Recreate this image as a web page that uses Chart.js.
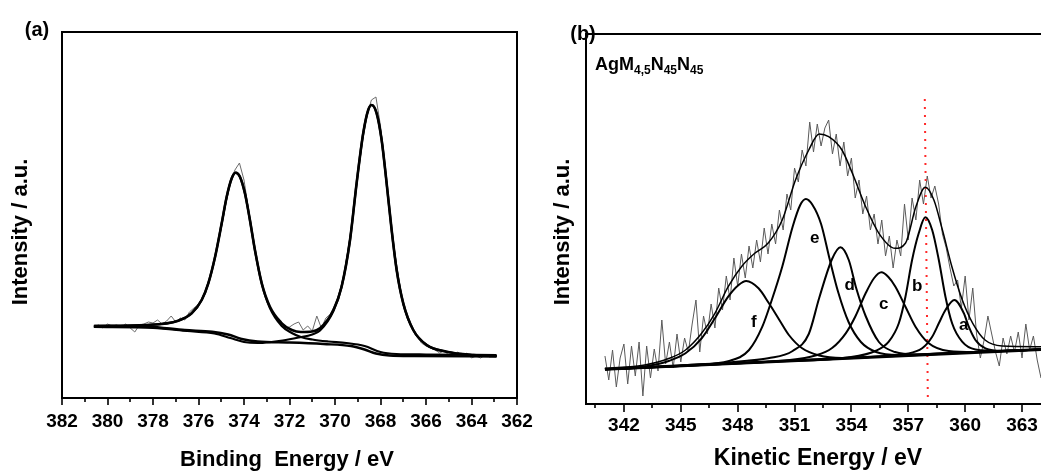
<!DOCTYPE html>
<html>
<head>
<meta charset="utf-8">
<script src="https://cdn.jsdelivr.net/npm/chart.js@4.4.0/dist/chart.umd.min.js"></script>
<style>
  body { margin: 0; background: #fff; width: 1041px; height: 471px; position: relative; overflow: hidden;
         font-family: "Liberation Sans", Arial, sans-serif; font-weight: bold; color: #000; }
  canvas { position: absolute; top: 0; }
  #cA { left: 0; }
  #cB { left: 540px; }
  .lbl { position: absolute; transform: translate(-50%, -50%); white-space: nowrap; line-height: 1; }
  .rot { transform: translate(-50%, -50%) rotate(-90deg); }
  #species { position: absolute; left: 595px; top: 55px; font-size: 18px; line-height: 1; white-space: nowrap; }
  #species sub { font-size: 12px; line-height: 0; vertical-align: -4px; }
</style>
</head>
<body>
<canvas id="cA" width="540" height="471"></canvas>
<canvas id="cB" width="501" height="471"></canvas>

<div class="lbl" style="left:37px;top:29px;font-size:20px">(a)</div>
<div class="lbl" style="left:583px;top:33px;font-size:20px">(b)</div>
<div class="lbl rot" style="left:20px;top:232px;font-size:22px">Intensity / a.u.</div>
<div class="lbl rot" style="left:562px;top:232px;font-size:22px">Intensity / a.u.</div>
<div class="lbl" style="left:287px;top:459px;font-size:22px">Binding&nbsp; Energy / eV</div>
<div class="lbl" style="left:818px;top:457px;font-size:23px">Kinetic Energy / eV</div>
<div id="species">AgM<sub>4,5</sub>N<sub>45</sub>N<sub>45</sub></div>

<script>
// ---------- (a) Ag 3d, binding energy ----------
const ticksA = [382, 380, 378, 376, 374, 372, 370, 368, 366, 364, 362];

const rawAE = [
  380.6, 380.4, 380.2, 380.0, 379.8, 379.6, 379.4, 379.2, 379.0, 378.8,
  378.6, 378.4, 378.2, 378.0, 377.8, 377.6, 377.4, 377.2, 377.0, 376.8,
  376.6, 376.4, 376.2, 376.0, 375.8, 375.6, 375.4, 375.2, 375.0, 374.8,
  374.6, 374.4, 374.2, 374.0, 373.8, 373.6, 373.4, 373.2, 373.0, 372.8,
  372.6, 372.4, 372.2, 372.0, 371.8, 371.6, 371.4, 371.2, 371.0, 370.8,
  370.6, 370.4, 370.2, 370.0, 369.8, 369.6, 369.4, 369.2, 369.0, 368.8,
  368.6, 368.4, 368.2, 368.0, 367.8, 367.6, 367.4, 367.2, 367.0, 366.8,
  366.6, 366.4, 366.2, 366.0, 365.8, 365.6, 365.4, 365.2, 365.0, 364.8,
  364.6, 364.4, 364.2, 364.0, 363.8, 363.6, 363.4, 363.2, 363.0
];
const rawAI = [
  71, 73, 70, 74, 72, 73, 71, 74, 70, 66,
  73, 74, 76, 75, 78, 74, 77, 82, 76, 80,
  78, 86, 90, 94, 100, 113, 128, 148, 170, 194,
  215, 228, 235, 218, 188, 160, 132, 112, 98, 88,
  82, 78, 70, 71, 74, 76, 68, 72, 67, 82,
  70, 80, 84, 93, 106, 124, 152, 184, 222, 256,
  282, 298, 301, 272, 232, 186, 150, 120, 92, 78,
  70, 62, 55, 52, 50, 48, 45, 47, 43, 42,
  46, 42, 45, 40, 42, 40, 43, 41, 42
];

const fitAE = [380.58, 378.28, 376.89, 376.3, 375.86, 375.57, 375.27, 374.98, 374.76, 374.54, 374.37, 374.18,
  373.96, 373.74, 373.52, 373.22, 372.86, 372.34, 371.9, 371.5, 371.0, 370.66, 370.07, 369.71, 369.34,
  369.05, 368.76, 368.54, 368.39, 368.17, 367.95, 367.73, 367.51, 367.29, 367.0, 366.56, 365.97, 365.09,
  363.92, 362.89];
const fitAI = [72, 73, 77.3, 84.7, 98, 114.7, 141.3, 174.7, 201.3, 219.7, 225.3, 221.3,
  204.7, 178, 148, 114.7, 91.3, 74.7, 68, 66, 66.5, 69.7, 88, 111.3, 158,
  214.7, 264.7, 288, 293, 284.7, 258, 214.7, 168, 128, 94.7, 68, 53, 46.3,
  43, 42];

// 3d5/2 + 3d3/2 components, each on its background
const peak1E = [380.6, 378.28, 376.89, 376.3, 375.86, 375.57, 375.27, 374.98, 374.76, 374.54, 374.37, 374.18,
  373.96, 373.74, 373.52, 373.22, 372.86, 372.34, 371.9, 371.5, 371.0, 370.3, 369.5, 368.7, 368.0, 367.3, 366.0, 362.9];
const peak1I = [72, 73, 77.3, 84.7, 98, 114.7, 141.3, 174.7, 201.3, 219.7, 225.3, 221.3,
  204.7, 178, 148, 114.5, 90, 72, 65, 61, 58.5, 56.5, 55, 52, 46, 44, 43.5, 43];
const peak2E = [380.6, 378.0, 376.5, 375.3, 374.6, 374.0, 373.4, 372.8, 372.3, 371.6, 371.0, 370.66, 370.07,
  369.71, 369.34, 369.05, 368.76, 368.54, 368.39, 368.17, 367.95, 367.73, 367.51, 367.29, 367.0, 366.56,
  365.97, 365.09, 363.92, 362.89];
const peak2I = [71, 70, 67, 64.5, 60, 56, 55, 56, 57.5, 60.5, 63.5, 67.5, 87,
  111.3, 158, 214.7, 264.7, 288, 293, 284.7, 258, 214.7, 168, 128, 94.7, 68,
  53, 46.3, 43, 42];
const bgAE = [380.6, 378.2, 376.6, 375.4, 374.7, 374.1, 373.4, 372.0, 370.5, 369.3, 368.7, 368.2, 367.6, 366.5, 362.9];
const bgAI = [72, 71.3, 68, 66.3, 63.5, 59, 56.5, 55.5, 54, 52, 48.5, 44.5, 42.5, 42, 41.5];

// ---------- (b) Ag MNN Auger, kinetic energy ----------
const ticksB = [342, 345, 348, 351, 354, 357, 360, 363];

const rawBE = [
  341.0, 341.2, 341.4, 341.6, 341.8, 342.0, 342.2, 342.4, 342.6, 342.8,
  343.0, 343.2, 343.4, 343.6, 343.8, 344.0, 344.2, 344.4, 344.6, 344.8,
  345.0, 345.2, 345.4, 345.6, 345.8, 346.0, 346.2, 346.4, 346.6, 346.8,
  347.0, 347.2, 347.4, 347.6, 347.8, 348.0, 348.2, 348.4, 348.6, 348.8,
  349.0, 349.2, 349.4, 349.6, 349.8, 350.0, 350.2, 350.4, 350.6, 350.8,
  351.0, 351.2, 351.4, 351.6, 351.8, 352.0, 352.2, 352.4, 352.6, 352.8,
  353.0, 353.2, 353.4, 353.6, 353.8, 354.0, 354.2, 354.4, 354.6, 354.8,
  355.0, 355.2, 355.4, 355.6, 355.8, 356.0, 356.2, 356.4, 356.6, 356.8,
  357.0, 357.2, 357.4, 357.6, 357.8, 358.0, 358.2, 358.4, 358.6, 358.8,
  359.0, 359.2, 359.4, 359.6, 359.8, 360.0, 360.2, 360.4, 360.6, 360.8,
  361.0, 361.2, 361.4, 361.6, 361.8, 362.0, 362.2, 362.4, 362.6, 362.8,
  363.0, 363.2, 363.4, 363.6, 363.8, 364.0
];
const rawBI = [
  48, 24, 54, 17, 46, 60, 20, 58, 28, 62,
  8, 58, 26, 55, 33, 84, 40, 62, 36, 70,
  42, 66, 52, 80, 104, 52, 88, 70, 100, 76,
  116, 94, 128, 104, 146, 118, 150, 126, 158, 136,
  164, 142, 176, 150, 180, 160, 194, 174, 210, 194,
  236, 222, 254, 238, 282, 252, 280, 258, 276, 284,
  250, 270, 238, 262, 228, 246, 206, 224, 190, 208,
  174, 190, 160, 184, 148, 168, 136, 164, 148, 200,
  164, 206, 184, 224, 200, 228, 206, 218, 200, 170,
  156, 136, 118, 124, 96, 128, 84, 116, 70, 46,
  64, 88, 70, 52, 38, 66, 50, 68, 52, 72,
  46, 80, 54, 68, 44, 26
];

const envBE = [341.0, 343.1, 344.4, 345.25, 346.1, 346.8, 347.5, 348.2, 348.9, 349.6, 350.35, 351.05, 351.75,
  352.3, 352.8, 353.5, 354.05, 354.75, 355.45, 356.3, 356.85, 357.4, 357.9, 358.35, 358.8, 359.3, 359.85,
  360.4, 361.05, 361.95, 364.0];
const envBI = [35.7, 39, 45.7, 54, 70.7, 90.7, 117.3, 137.3, 150.7, 160.7, 184, 224, 254,
  270, 267.3, 254, 230.7, 197.3, 170.7, 155.7, 160.7, 197.3, 216.7, 204, 174, 137.3, 104,
  80.7, 64, 58, 57.3];

const baseBE = [341.0, 364.0];
const baseBI = [34.7, 54.5];

const compAE = [341.0, 352.0, 355.5, 356.85, 357.73, 358.26, 358.61, 358.96, 359.43, 359.93, 360.19, 360.54, 361.07, 361.95, 364.0];
const compAI = [34.7, 44.2, 47.6, 50, 55.7, 67.3, 80.7, 94, 104, 90.7, 77.3, 64, 55.7, 53.2, 54.5];
const compBE = [341.0, 350.0, 353.8, 355.27, 355.97, 356.5, 356.85, 357.2, 357.55, 357.9, 358.26, 358.61, 358.96, 359.31, 359.84, 360.54, 361.95, 364.0];
const compBI = [34.7, 42.6, 46.5, 53, 62.3, 80.7, 107.3, 144, 170.7, 186.7, 174, 144, 107.3, 80.7, 62.3, 54.5, 53, 54.5];
const compCE = [341.0, 348.0, 350.5, 352.1, 352.98, 353.7, 354.2, 354.75, 355.2, 355.58, 355.95, 356.32, 356.85, 357.38, 358.08, 359.13, 360.5, 362.0, 364.0];
const compCI = [34.7, 40.7, 43.6, 48.5, 56, 70.7, 87.3, 110.7, 126, 131.7, 127, 117.3, 97.3, 77.3, 60.7, 53, 52, 53, 54.5];
const compDE = [341.0, 346.0, 348.5, 349.6, 350.9, 351.75, 352.3, 352.98, 353.42, 353.86, 354.25, 354.75, 355.45, 356.3, 357.4, 359.0, 364.0];
const compDI = [34.7, 39.2, 43.2, 45.8, 53, 70, 106, 145, 156.7, 144, 116, 88, 62, 52, 49.5, 50.8, 54.5];
const compEE = [341.0, 344.0, 345.8, 347.5, 348.6, 349.3, 349.8, 350.35, 350.9, 351.3, 351.6, 351.95, 352.4, 352.85, 353.3, 353.85, 354.5, 355.3, 356.5, 358.0, 361.0, 364.0];
const compEI = [34.7, 37.5, 39.5, 42.8, 54, 77.3, 104, 137.3, 177.3, 199, 205, 199, 180, 145, 112, 82, 62, 52, 49, 50, 52.2, 54.5];
const compFE = [341.0, 343.1, 344.4, 345.25, 346.1, 346.8, 347.5, 348.05, 348.45, 349.1, 349.65, 350.2, 350.7, 351.4, 352.3, 353.5, 355.0, 357.0, 360.0, 364.0];
const compFI = [34.7, 37.6, 43.3, 50.7, 65.7, 85.7, 107.3, 119, 123, 115.7, 100.7, 84, 69, 55.7, 48.5, 46, 47, 48.6, 51.2, 54.5];

// vertical reference line near 357.9 eV
const refE = [357.87, 358.03];
const refI = [305, 7];

const peakNames = ['a', 'b', 'c', 'd', 'e', 'f'];
const peakNameE = [359.92, 357.47, 355.71, 353.91, 352.07, 348.85];
const peakNameI = [79, 118, 100, 119, 165.7, 81.3];

// ---------- helpers ----------
const FONT = "'Liberation Sans', Arial, sans-serif";
const pts = (xs, ys) => xs.map((x, i) => ({ x: x, y: ys[i] }));

function curve(xs, ys, color, width, smooth) {
  return {
    data: pts(xs, ys),
    borderColor: color,
    borderWidth: width,
    pointRadius: 0,
    fill: false,
    cubicInterpolationMode: smooth ? 'monotone' : 'default',
    tension: 0
  };
}

// frame, tick marks and peak letters
const frame = {
  id: 'frame',
  afterDraw(chart, args, opts) {
    const { ctx, chartArea: a, scales: { x, y } } = chart;
    ctx.save();
    ctx.strokeStyle = '#000';
    ctx.lineWidth = 2;
    ctx.beginPath();
    if (opts.openRight) {
      ctx.moveTo(a.right + 2, a.top);
      ctx.lineTo(a.left, a.top);
      ctx.lineTo(a.left, a.bottom);
      ctx.lineTo(a.right + 2, a.bottom);
    } else {
      ctx.rect(a.left, a.top, a.right - a.left, a.bottom - a.top);
    }
    ctx.stroke();

    const vals = x.ticks.map(t => t.value).sort((p, q) => p - q);
    const step = vals[1] - vals[0];
    const lo = Math.min(x.min, x.max), hi = Math.max(x.min, x.max);
    const minors = [];
    vals.forEach((v, i) => {
      if (i === 0 && v - step / 2 > lo) minors.push(v - step / 2);
      if (v + step / 2 < hi) minors.push(v + step / 2);
    });
    ctx.lineWidth = 1.6;
    ctx.beginPath();
    vals.forEach(v => {
      const px = Math.round(x.getPixelForValue(v));
      ctx.moveTo(px, a.bottom); ctx.lineTo(px, a.bottom + opts.major);
    });
    minors.forEach(v => {
      const px = Math.round(x.getPixelForValue(v));
      ctx.moveTo(px, a.bottom); ctx.lineTo(px, a.bottom + opts.minor);
    });
    ctx.stroke();

    if (opts.names) {
      ctx.fillStyle = '#000';
      ctx.font = 'bold 17px ' + FONT;
      ctx.textAlign = 'center';
      ctx.textBaseline = 'middle';
      opts.names.forEach((n, i) => {
        ctx.fillText(n, x.getPixelForValue(opts.namesE[i]), y.getPixelForValue(opts.namesI[i]));
      });
    }
    ctx.restore();
  }
};

function xScale(min, max, reverse, ticks, height, pad) {
  return {
    type: 'linear', min: min, max: max, reverse: reverse,
    afterBuildTicks: s => { s.ticks = ticks.map(v => ({ value: v })); },
    afterFit: s => { s.height = height; s.paddingLeft = 0; s.paddingRight = 0; },
    grid: { display: false, drawTicks: false },
    border: { display: false },
    ticks: { font: { family: FONT, size: 19, weight: 'bold' }, color: '#000', padding: pad,
             maxRotation: 0, autoSkip: false }
  };
}

const common = {
  responsive: false,
  animation: false,
  events: [],
  plugins: { legend: { display: false }, tooltip: { enabled: false } }
};

// ---------- chart (a) ----------
new Chart(document.getElementById('cA'), {
  type: 'line',
  data: {
    datasets: [
      curve(fitAE, fitAI, '#000', 2.6, true),
      curve(peak1E, peak1I, '#000', 2.2, true),
      curve(peak2E, peak2I, '#000', 2.2, true),
      curve(bgAE, bgAI, '#000', 2.4, true),
      curve(rawAE, rawAI, '#6b6b6b', 1, false)
    ]
  },
  options: Object.assign({}, common, {
    layout: { padding: { left: 62, top: 32, right: 23, bottom: 0 } },
    scales: {
      x: xScale(362, 382, true, ticksA, 73, 12),
      y: { display: false, min: 0, max: 366 }
    },
    plugins: Object.assign({}, common.plugins, { frame: { openRight: false, major: 7, minor: 4 } })
  }),
  plugins: [frame]
});

// ---------- chart (b) ----------
new Chart(document.getElementById('cB'), {
  type: 'line',
  data: {
    datasets: [
      curve(envBE, envBI, '#000', 1.5, true),
      curve(compAE, compAI, '#000', 2, true),
      curve(compBE, compBI, '#000', 2, true),
      curve(compCE, compCI, '#000', 2, true),
      curve(compDE, compDI, '#000', 2, true),
      curve(compEE, compEI, '#000', 2, true),
      curve(compFE, compFI, '#000', 2, true),
      curve(baseBE, baseBI, '#000', 3, false),
      Object.assign(curve(refE, refI, '#ff2a2a', 2, false), { borderDash: [2, 6] }),
      curve(rawBE, rawBI, '#5a5a5a', 1, false)
    ]
  },
  options: Object.assign({}, common, {
    layout: { padding: { left: 46, top: 34, right: 0, bottom: 0 } },
    scales: {
      x: xScale(340, 364, false, ticksB, 67, 10),
      y: { display: false, min: 0, max: 370 }
    },
    plugins: Object.assign({}, common.plugins, {
      frame: { openRight: true, major: 8, minor: 4, names: peakNames, namesE: peakNameE, namesI: peakNameI }
    })
  }),
  plugins: [frame]
});
</script>
</body>
</html>
